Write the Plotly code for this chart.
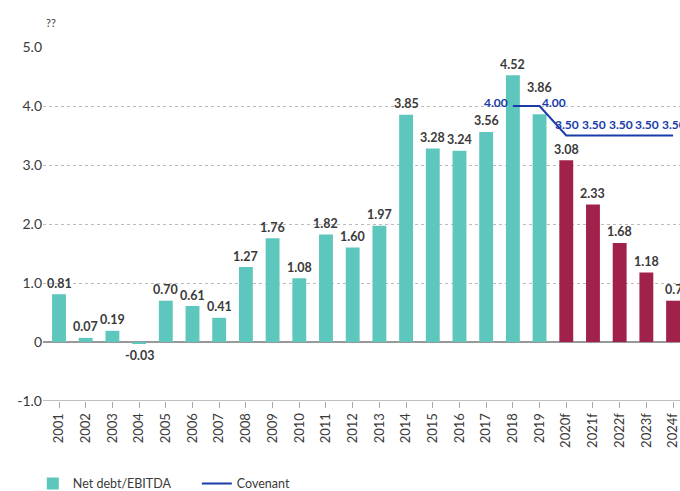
import plotly.graph_objects as go

categories = ["2001", "2002", "2003", "2004", "2005", "2006", "2007", "2008", "2009", "2010",
              "2011", "2012", "2013", "2014", "2015", "2016", "2017", "2018", "2019",
              "2020f", "2021f", "2022f", "2023f", "2024f"]
net_debt = [0.81, 0.07, 0.19, -0.03, 0.70, 0.61, 0.41, 1.27, 1.76, 1.08,
            1.82, 1.60, 1.97, 3.85, 3.28, 3.24, 3.56, 4.52, 3.86,
            3.08, 2.33, 1.68, 1.18, 0.70]
bar_labels = ["0.81", "0.07", "0.19", "-0.03", "0.70", "0.61", "0.41", "1.27", "1.76", "1.08",
              "1.82", "1.60", "1.97", "3.85", "3.28", "3.24", "3.56", "4.52", "3.86",
              "3.08", "2.33", "1.68", "1.18", "0.7"]
forecast = [False] * 19 + [True] * 5
cov_categories = ["2018", "2019", "2020f", "2021f", "2022f", "2023f", "2024f"]
covenant = [4.00, 4.00, 3.50, 3.50, 3.50, 3.50, 3.50]
y_ticks = [-1, 0, 1, 2, 3, 4, 5]
y_tick_text = ["-1.0", "0", "1.0", "2.0", "3.0", "4.0", "5.0"]

TEAL = "#5DC6BD"
MAROON = "#A0224B"
BLUE = "#1A3BAA"
TXT = "#3a3a3a"
FONT = "Lato"

fig = go.Figure()
fig.add_trace(go.Bar(
    x=categories, y=net_debt, name="Net debt/EBITDA",
    marker=dict(color=[MAROON if f else TEAL for f in forecast], line=dict(width=0)),
    width=0.52, showlegend=True,
))
fig.add_trace(go.Scatter(
    x=cov_categories, y=covenant, name="Covenant", mode="lines",
    line=dict(color=BLUE, width=2),
))

# bar value labels
for i, (v, lab) in enumerate(zip(net_debt, bar_labels)):
    shift = 11 if v >= 0 else -12
    if categories[i] == "2019":
        shift = 27
    fig.add_annotation(
        x=i, y=v, text=lab, showarrow=False, yshift=shift,
        font=dict(color=TXT, size=12.5, family=FONT, weight="bold"),
    )

# covenant value labels
for j, (c, v) in enumerate(zip(cov_categories, covenant)):
    i = categories.index(c)
    if j == 0:
        kw = dict(xanchor="right", xshift=-3, yshift=4)
    elif j == 1:
        kw = dict(xanchor="left", xshift=0, yshift=4)
    else:
        kw = dict(xanchor="center", xshift=1, yshift=11)
    fig.add_annotation(
        x=i, y=v, text=f"{v:.2f}", showarrow=False,
        font=dict(color=BLUE, size=12, family=FONT, weight="bold"), **kw,
    )

fig.add_annotation(xref="paper", yref="paper", x=0.002, y=1.07, text="??",
                   showarrow=False, xanchor="left", yanchor="middle",
                   font=dict(color=TXT, size=11, family=FONT))

fig.update_layout(
    width=680, height=491,
    margin=dict(l=43, r=0, t=47, b=90, autoexpand=False),
    plot_bgcolor="white", paper_bgcolor="white",
    font=dict(family=FONT, color=TXT, size=13),
    legend=dict(orientation="h", x=-0.016, y=-0.234, xanchor="left", yanchor="middle",
                font=dict(size=12.5, color=TXT, family=FONT), itemwidth=30,
                traceorder="normal", entrywidth=119),
    xaxis=dict(
        type="category", categoryorder="array", categoryarray=categories,
        range=[-0.6, 23.26], tickangle=-90, showgrid=False, automargin=False,
        ticks="outside", ticklen=6, tickcolor="#aaaaaa",
        tickfont=dict(size=13, color=TXT, family=FONT),
        showline=False, zeroline=False,
    ),
    yaxis=dict(
        range=[-1, 5], tickvals=y_ticks, ticktext=y_tick_text, automargin=False,
        showgrid=True, gridcolor="#bbbbbb", griddash="dot", gridwidth=1,
        zeroline=True, zerolinecolor="#999999", zerolinewidth=1.5,
        showline=False, ticks="", tickfont=dict(size=14, color=TXT, family=FONT),
    ),
)
fig.add_shape(type="line", xref="paper", yref="y", x0=0, x1=1, y0=-1, y1=-1,
              line=dict(color="#aaaaaa", width=1.5))

fig.write_html(
    "out.html",
    config={"displayModeBar": False},
    post_script="document.body.style.margin='0';document.body.style.overflow='hidden';",
)
